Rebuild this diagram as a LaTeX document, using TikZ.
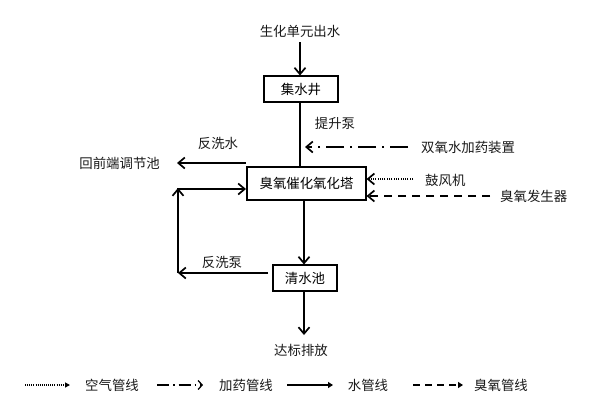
\documentclass[tikz,border=0pt]{standalone}
\usepackage{fontspec}
\setmainfont{Noto Sans CJK SC}
\usetikzlibrary{arrows.meta}
\begin{document}
\begin{tikzpicture}[x=1pt,y=-1pt,
  txt/.style={font=\fontsize{13.4}{15}\selectfont, inner sep=0pt, text=black!90},
  box/.style={draw, line width=1.1pt, minimum height=#1, inner sep=0pt, font=\fontsize{13.4}{15}\selectfont},
  barb/.style={-{Straight Barb[length=6.5pt,width=11pt,line width=1.7pt]}},
  water/.style={line width=1.9pt, barb},
  drug/.style={line width=1.9pt, dash pattern=on 18pt off 6pt on 2pt off 6pt, barb},
  air/.style={line width=1.4pt, dash pattern=on 1pt off 1.3pt, barb},
  ozone/.style={line width=1.9pt, dash pattern=on 8pt off 6pt, barb},
]
\useasboundingbox (0,0) rectangle (613,413);
\fill[white] (0,0) rectangle (613,413);

% nodes
\node[txt] (src) at (300,31) {生化单元出水};
\node[box=26pt, minimum width=74pt] (jsj) at (301,89) {集水井};
\node[box=33pt, minimum width=119pt] (tower) at (306.5,183.5) {臭氧催化氧化塔};
\node[box=26pt, minimum width=64pt] (qsc) at (305,278) {清水池};
\node[txt] (out) at (301,350) {达标排放};

\node[txt] (lift) at (335,123) {提升泵};
\node[txt, anchor=west] (h2o2) at (421,147) {双氧水加药装置};
\node[txt, anchor=west] (blower) at (425,180) {鼓风机};
\node[txt, anchor=west] (ozgen) at (500,196) {臭氧发生器};
\node[txt] (bw) at (218,143) {反洗水};
\node[txt, anchor=east] (ret) at (160,163) {回前端调节池};
\node[txt] (bwp) at (222,262) {反洗泵};

\coordinate (h2o2s) at (408,147);
\coordinate (h2o2e) at (305,147);
\coordinate (bws) at (246,163);
\coordinate (rete) at (177,163);
\coordinate (loopa) at (178,273);
\coordinate (loopb) at (178,189);
\coordinate (qscw) at (268,273);
\coordinate (towerw) at (246,189);

% main water line
\draw[water] (src.south -| 300,0) ++(0,5) -- (300,75.5);
\draw[line width=1.9pt] (300,102) -- (300,166);
\draw[water] (304,200.5) -- (304,264.5);
\draw[water] (304,291) -- (304,335);

% side inputs
\draw[drug] (h2o2s) -- (h2o2e);
\draw[air] (413,179) -- (tower.east |- 0,179);
\draw[ozone] (490,196) -- (tower.east |- 0,196);

% backwash
\draw[water] (bws) -- (rete);
\draw[water] (qscw) -- (loopa);
\draw[water] (loopa) -- ([yshift=1pt]loopb);
\draw[water] ([xshift=-0.95pt]loopb) -- (towerw);

% legend
\node[txt] (l1) at (112,385) {空气管线};
\node[txt] (l2) at (246,385) {加药管线};
\node[txt] (l3) at (368,385) {水管线};
\node[txt] (l4) at (501,385) {臭氧管线};
\coordinate (a1s) at (25,385); \coordinate (a1e) at (70,385);
\coordinate (a2s) at (157,385); \coordinate (a2e) at (203,385);
\coordinate (a3s) at (287,385); \coordinate (a3e) at (333,385);
\coordinate (a4s) at (413,385); \coordinate (a4e) at (463,385);
\draw[line width=1.2pt, dash pattern=on 0.9pt off 1.2pt, -{Triangle[length=5pt,width=5pt]}] (a1s) -- (a1e);
\draw[line width=1.1pt, dash pattern=on 12pt off 4pt on 1.5pt off 4pt, -{Straight Barb[length=4pt,width=9pt,line width=1.3pt]}] (a2s) -- (a2e);
\draw[line width=1.9pt, -{Triangle[length=5pt,width=6pt]}] (a3s) -- (a3e);
\draw[line width=1.9pt, dash pattern=on 7pt off 5pt, -{Triangle[length=5pt,width=6pt]}] (a4s) -- (a4e);
\end{tikzpicture}
\end{document}
